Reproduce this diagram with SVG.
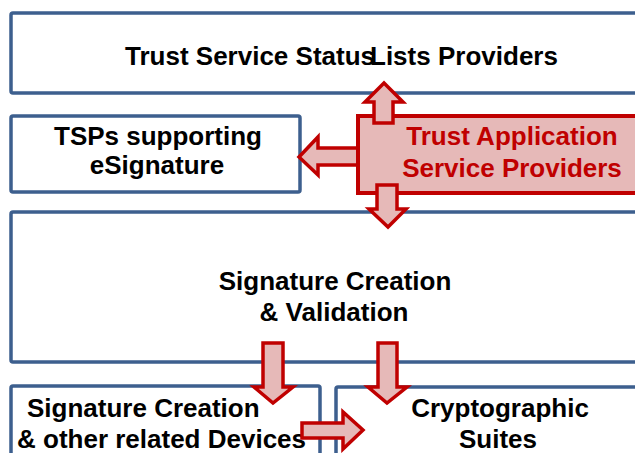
<svg xmlns="http://www.w3.org/2000/svg" width="635" height="453" viewBox="0 0 635 453">
<defs>
<style>
.box{fill:#ffffff;stroke:#3d5f8e;stroke-width:3.5}
.tasp{fill:#e6b9b8;stroke:#c00000;stroke-width:4}
.arr{fill:#e6b9b8;stroke:#c00000;stroke-width:3.5;stroke-linejoin:miter}
.t{font-family:"Liberation Sans",Arial,sans-serif;font-weight:bold;font-size:26px;fill:#000000}
.tr{fill:#c00000}
.c{text-anchor:middle}
</style>
</defs>
<rect width="635" height="453" fill="#ffffff"/>
<g id="tssl">
<rect class="box" x="11" y="13" width="650" height="80" rx="2"/>
<text class="t" x="125" y="65">Trust Service Status</text>
<text class="t" x="370" y="65">Lists</text>
<text class="t" x="438" y="65">Providers</text>
</g>
<g id="tsps">
<rect class="box" x="11" y="116" width="289" height="76" rx="2"/>
<text class="t c" x="158" y="145">TSPs supporting</text>
<text class="t c" x="157" y="174">eSignature</text>
</g>
<g id="scv">
<rect class="box" x="11" y="212" width="650" height="150" rx="2"/>
<text class="t c" x="335" y="290">Signature Creation</text>
<text class="t c" x="334" y="321">&amp; Validation</text>
</g>
<g id="scd">
<rect class="box" x="11" y="386" width="309" height="90" rx="2"/>
<text class="t" x="27" y="417">Signature Creation</text>
<text class="t" x="17" y="448">&amp; other related Devices</text>
</g>
<g id="cs">
<rect class="box" x="336" y="387" width="320" height="90" rx="2"/>
<text class="t c" x="500" y="417">Cryptographic</text>
<text class="t c" x="498" y="448">Suites</text>
</g>
<g id="connectors-back">
<polygon class="arr" points="299,157 318,137 318,148 362,148 362,165 318,165 318,175"/>
</g>
<g id="tasp">
<rect class="tasp" x="358" y="116" width="300" height="77"/>
<text class="t tr c" x="512" y="145">Trust Application</text>
<text class="t tr c" x="512" y="177">Service Providers</text>
</g>
<g id="connectors">
<polygon class="arr" points="384,83 403,102 393,102 393,123 374,123 374,102 365,102"/>
<polygon class="arr" points="377,185 397,185 397,209 406,209 388,227 369,209 377,209"/>
<polygon class="arr" points="263,343 283,343 283,387 293,387 273,403 254,387 263,387"/>
<polygon class="arr" points="378,343 397,343 397,387 407,387 387,403 368,387 378,387"/>
<polygon class="arr" points="302,423 343,423 343,412 363,430 343,449 343,438 302,438"/>
</g>
</svg>
